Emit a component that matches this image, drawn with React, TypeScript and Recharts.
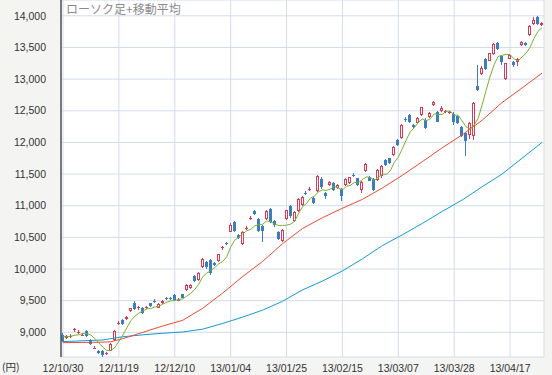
import React from 'react';
import { ComposedChart, Bar, Line, XAxis, YAxis, CartesianGrid } from 'recharts';

const dates = [
  '12/10/30','12/10/31','12/11/01','12/11/02','12/11/05','12/11/06','12/11/07','12/11/08','12/11/09','12/11/12',
  '12/11/13','12/11/14','12/11/15','12/11/16','12/11/19','12/11/20','12/11/21','12/11/22','12/11/26','12/11/27',
  '12/11/28','12/11/29','12/11/30','12/12/03','12/12/04','12/12/05','12/12/06','12/12/07','12/12/10','12/12/11',
  '12/12/12','12/12/13','12/12/14','12/12/17','12/12/18','12/12/19','12/12/20','12/12/21','12/12/25','12/12/26',
  '12/12/27','12/12/28','13/01/04','13/01/07','13/01/08','13/01/09','13/01/10','13/01/11','13/01/15','13/01/16',
  '13/01/17','13/01/18','13/01/21','13/01/22','13/01/23','13/01/24','13/01/25','13/01/28','13/01/29','13/01/30',
  '13/01/31','13/02/01','13/02/04','13/02/05','13/02/06','13/02/07','13/02/08','13/02/12','13/02/13','13/02/14',
  '13/02/15','13/02/18','13/02/19','13/02/20','13/02/21','13/02/22','13/02/25','13/02/26','13/02/27','13/02/28',
  '13/03/01','13/03/04','13/03/05','13/03/06','13/03/07','13/03/08','13/03/11','13/03/12','13/03/13','13/03/14',
  '13/03/15','13/03/18','13/03/19','13/03/21','13/03/22','13/03/25','13/03/26','13/03/27','13/03/28','13/03/29',
  '13/04/01','13/04/02','13/04/03','13/04/04','13/04/05','13/04/08','13/04/09','13/04/10','13/04/11','13/04/12',
  '13/04/15','13/04/16','13/04/17','13/04/18','13/04/19','13/04/22','13/04/23','13/04/24','13/04/25','13/04/26',
  '13/04/30',
];

const opens = [
  8950,8915,8925,9030,8995,8950,9020,8880,8745,8706,8705,8660,8710,8885,9130,9190,9215,9330,9465,9378,
  9380,9385,9458,9500,9392,9470,9545,9542,9590,9502,9600,9670,9700,9895,9828,10025,10105,10150,10100,10120,
  10325,10410,10590,10745,10545,10395,10630,10790,10915,10795,10680,10795,10945,10755,10580,10445,10790,10995,10760,10920,
  11015,11205,11250,11125,11235,11430,11195,11328,11352,11278,11262,11320,11356,11492,11432,11250,11555,11458,11420,11408,
  11462,11720,11746,11802,12045,12066,12372,12440,12274,12312,12435,12362,12398,12592,12482,12497,12475,12462,12455,12410,
  12250,12145,12125,12100,12895,13080,13320,13292,13398,13578,13358,13008,13325,13278,13270,13545,13568,13692,13870,13978,
  13848,
];
const highs = [
  8985,8960,8970,9070,9030,8990,9040,8895,8780,8720,8715,8690,8830,9040,9175,9210,9260,9390,9490,9420,
  9395,9420,9470,9520,9460,9505,9560,9555,9600,9535,9610,9760,9770,9910,9945,10170,10120,10165,10115,10245,
  10365,10430,10720,10760,10560,10600,10680,10830,10935,10810,10700,10925,10960,10770,10600,10625,10940,11010,10915,11125,
  11155,11230,11290,11140,11480,11450,11210,11385,11370,11350,11280,11445,11460,11510,11445,11392,11670,11475,11435,11575,
  11640,11735,11760,11945,12060,12295,12400,12455,12290,12395,12565,12380,12480,12650,12500,12570,12510,12500,12475,12425,
  12265,12160,12320,12645,13225,13200,13340,13420,13565,13590,13380,13262,13395,13290,13335,13600,13580,13860,13985,13990,
  13895,
];
const lows = [
  8840,8900,8905,9010,8975,8935,8930,8805,8730,8660,8610,8640,8700,8870,9110,9110,9200,9320,9360,9360,
  9290,9370,9395,9470,9380,9455,9515,9515,9500,9490,9540,9660,9690,9800,9815,10010,10000,9900,10040,10105,
  10300,10380,10580,10580,10470,10380,10610,10770,10850,10585,10420,10780,10720,10670,10460,10430,10780,10810,10745,10905,
  11000,11170,11230,11020,11220,11270,11110,11310,11235,11260,11075,11305,11340,11460,11305,11195,11540,11385,11235,11395,
  11445,11630,11655,11790,11945,12050,12330,12300,12225,12300,12420,12210,12385,12580,12315,12485,12460,12450,12270,12290,
  12080,11790,12060,12040,12820,13060,13150,13280,13385,13460,13230,12990,13310,13190,13210,13530,13520,13680,13860,13860,
  13835,
];
const closes = [
  8870,8935,8945,9045,9010,8965,8940,8820,8760,8670,8635,8668,8815,9024,9150,9135,9235,9378,9370,9395,
  9305,9400,9410,9488,9445,9490,9535,9530,9515,9515,9550,9745,9752,9815,9930,10155,10025,9935,10060,10230,
  10340,10395,10700,10595,10490,10585,10650,10805,10870,10600,10605,10913,10745,10690,10480,10615,10928,10830,10900,11113,
  11140,11190,11262,11045,11465,11290,11150,11368,11252,11335,11150,11430,11447,11480,11320,11378,11655,11398,11252,11560,
  11624,11648,11672,11930,11962,12283,12358,12315,12240,12378,12552,12225,12467,12635,12330,12546,12490,12476,12320,12310,
  12100,12020,12303,12630,12835,13183,13165,13408,13550,13482,13272,13250,13382,13220,13320,13583,13535,13845,13935,13878,
  13882,
];

// 5-day moving average (green)
const ma5 = [
  8935,8930,8938,8955,8961,8980,8981,8956,8899,8831,8765,8711,8710,8762,8858,8958,9072,9184,9254,9303,
  9337,9370,9376,9400,9410,9447,9474,9498,9503,9517,9529,9571,9615,9675,9758,9879,9935,9972,10021,10081,
  10118,10192,10345,10452,10504,10553,10604,10625,10680,10702,10706,10759,10747,10711,10687,10689,10692,10709,10751,10877,
  10982,11035,11121,11150,11220,11250,11242,11264,11305,11279,11251,11307,11323,11368,11365,11411,11456,11446,11401,11449,
  11498,11496,11551,11687,11767,11899,12041,12170,12232,12315,12369,12342,12372,12451,12442,12441,12494,12495,12432,12428,
  12339,12245,12211,12273,12378,12594,12823,13044,13228,13358,13375,13392,13387,13321,13289,13351,13408,13501,13644,13755,
  13815,
];

// 25-day moving average (red), read at these positions
const ma25Index = [0,5,10,12,15,20,25,30,35,40,45,50,55,60,65,70,75,80,85,90,95,100,105,110,115,120];
const ma25Value = [8837,8840,8845,8850,8900,9000,9100,9190,9380,9620,9880,10120,10400,10640,10810,10960,11100,11280,11480,11695,11915,12120,12350,12630,12860,13095];

// 75-day moving average (blue), read at these positions
const ma75Index = [0,10,15,20,25,30,35,40,45,50,55,60,65,70,75,80,85,90,95,100,105,110,115,120];
const ma75Value = [8853,8880,8930,8960,8985,9005,9050,9140,9240,9350,9490,9670,9810,9970,10160,10370,10540,10720,10910,11090,11300,11500,11750,12000];

const yTicks = [9000,9500,10000,10500,11000,11500,12000,12500,13000,13500,14000];

const RED = '#d93a55';
const BLUE = '#3c7dbd';

const data = dates.map((d, i) => {
  const k25 = ma25Index.indexOf(i);
  const k75 = ma75Index.indexOf(i);
  return {
    date: d,
    open: opens[i],
    high: highs[i],
    low: lows[i],
    close: closes[i],
    range: [lows[i], highs[i]],
    ma5: ma5[i],
    ma25: k25 >= 0 ? ma25Value[k25] : null,
    ma75: k75 >= 0 ? ma75Value[k75] : null,
  };
});

const Candle = (props: any) => {
  const { x, y, width, height, payload } = props;
  if (x == null || y == null || payload == null) return null;
  const { open, close, high, low } = payload;
  const top = Math.min(y, y + height);
  const h = Math.abs(height);
  const span = high - low || 1;
  const py = (v: number) => top + ((high - v) / span) * h;
  const c = Math.floor(x + width / 2);
  const up = close >= open;
  const color = up ? RED : BLUE;
  const yO = py(open);
  const yC = py(close);
  const bTop = Math.round(Math.min(yO, yC));
  const bBot = Math.round(Math.max(yO, yC));
  const yH = Math.round(py(high));
  const yL = Math.round(py(low));
  const wx = c + 0.5;
  let body: React.ReactNode;
  if (up) {
    if (bBot - bTop >= 2) {
      body = <rect x={c - 0.5} y={bTop + 0.5} width={2} height={bBot - bTop - 1} fill="#fff" stroke={color} strokeWidth={1} />;
    } else {
      body = <line x1={c - 1} x2={c + 2} y1={bTop + 0.5} y2={bTop + 0.5} stroke={color} strokeWidth={1} />;
    }
  } else {
    if (bBot - bTop >= 1) {
      body = <rect x={c - 1} y={bTop} width={3} height={bBot - bTop} fill={color} />;
    } else {
      body = <line x1={c - 1} x2={c + 2} y1={bTop + 0.5} y2={bTop + 0.5} stroke={color} strokeWidth={1} />;
    }
  }
  return (
    <g>
      <line x1={wx} x2={wx} y1={yH} y2={bTop} stroke={color} strokeWidth={1} />
      <line x1={wx} x2={wx} y1={bBot} y2={yL} stroke={color} strokeWidth={1} />
      {body}
    </g>
  );
};

const tickFont = { fontFamily: '"Liberation Sans", Arial, sans-serif', fontSize: 10.5, fill: '#333' };

export default function App() {
  return (
    <div style={{ position: 'absolute', left: 0, top: 0, width: 552, height: 375, background: '#f4f4f2', overflow: 'hidden' }}>
      <ComposedChart width={552} height={375} data={data} margin={{ top: 0, right: 8, bottom: 0, left: 0 }}>
        <CartesianGrid stroke="#d5dce8" fill="#ffffff" strokeWidth={1} />
        <XAxis
          dataKey="date"
          interval={13}
          tickLine={false}
          axisLine={false}
          height={18}
          tick={tickFont}
        />
        <YAxis
          domain={[8610, 14250]}
          ticks={yTicks}
          width={61}
          tickLine={false}
          tickMargin={9}
          axisLine={{ stroke: '#555', strokeWidth: 1.5 }}
          tick={tickFont}
          tickFormatter={(v: number) => v.toLocaleString('en-US')}
          allowDataOverflow
        />
        <Line dataKey="ma75" stroke="#129ad6" strokeWidth={1} dot={false} connectNulls isAnimationActive={false} />
        <Line dataKey="ma25" stroke="#ee4a30" strokeWidth={1} dot={false} connectNulls isAnimationActive={false} />
        <Line dataKey="ma5" stroke="#76b032" strokeWidth={1} dot={false} isAnimationActive={false} />
        <Bar dataKey="range" barSize={3} shape={<Candle />} isAnimationActive={false} />
      </ComposedChart>
      <span style={{ position: 'absolute', left: 66, top: 0, fontFamily: '"Noto Sans CJK JP", sans-serif', fontSize: 12, color: '#8a8a8a', lineHeight: '17px', whiteSpace: 'nowrap' }}>
        ローソク足+移動平均
      </span>
      <span style={{ position: 'absolute', left: 2, top: 360, fontFamily: '"Noto Sans CJK JP", sans-serif', fontSize: 10.5, color: '#333', lineHeight: '14px' }}>
        (円)
      </span>
    </div>
  );
}
